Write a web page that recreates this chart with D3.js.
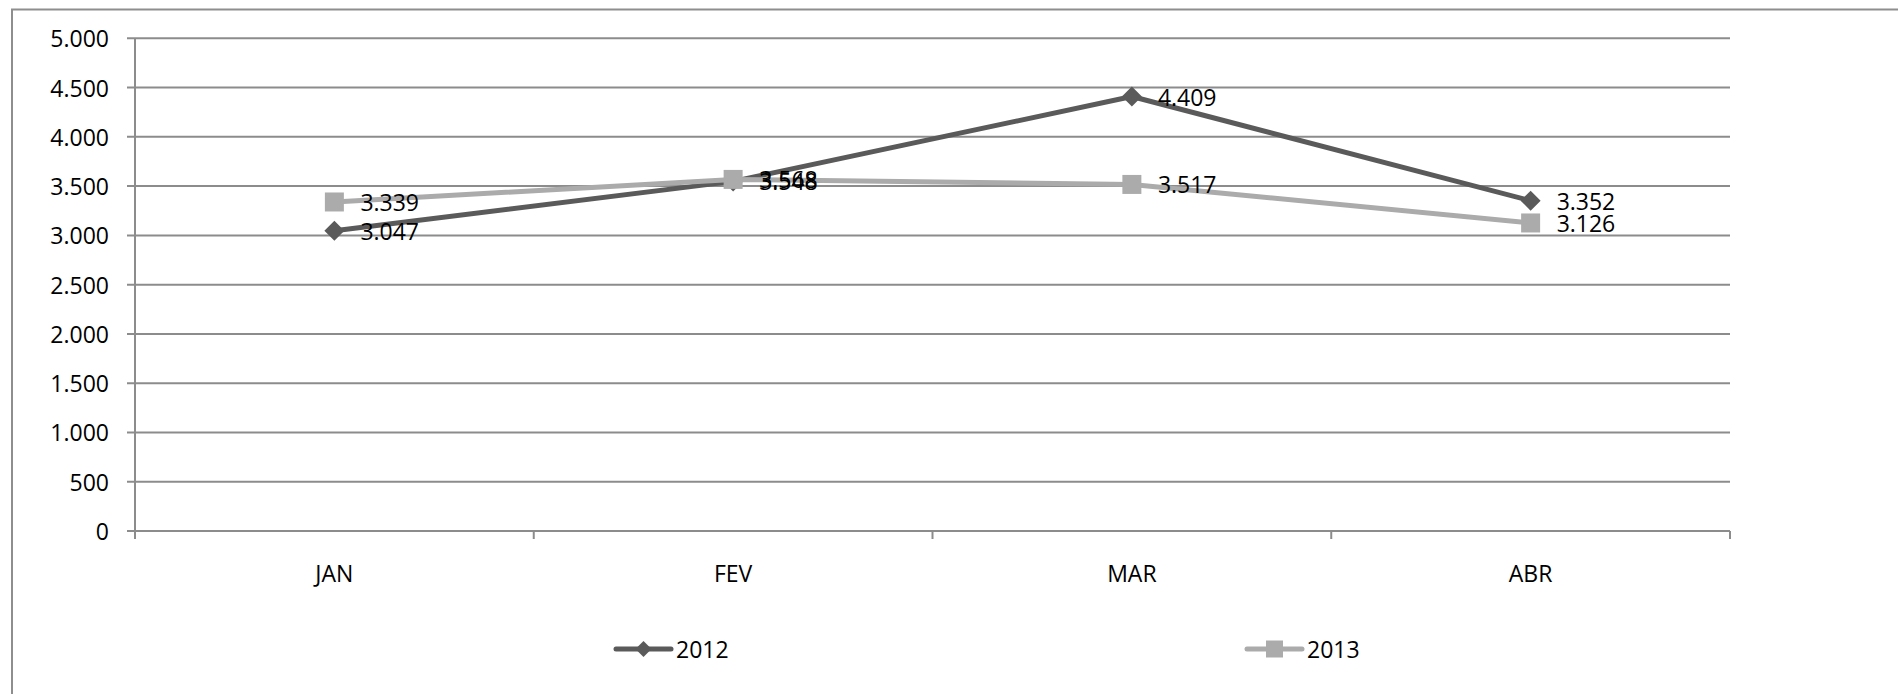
<!DOCTYPE html>
<html>
<head>
<meta charset="utf-8">
<script src="https://cdn.jsdelivr.net/npm/d3@7"></script>
<style>
  html, body { margin: 0; padding: 0; background: #fff; }
  svg { display: block; }
  text { font-family: "Open Sans", "Liberation Sans", sans-serif; fill: #000; }
</style>
</head>
<body>
<svg id="chart" width="1898" height="694"></svg>
<script>
const categories = ["JAN", "FEV", "MAR", "ABR"];
const values2012 = [3047, 3548, 4409, 3352];
const values2013 = [3339, 3568, 3517, 3126];
const seriesNames = ["2012", "2013"];
const yTicks = [0, 500, 1000, 1500, 2000, 2500, 3000, 3500, 4000, 4500, 5000];

const W = 1898, H = 694;
const plot = { left: 135, right: 1730, top: 38.3, bottom: 531 };
const fontSize = 23;
const gridColor = "#8c8c8c";
const colors = ["#5a5a5a", "#ababab"];

const svg = d3.select("#chart");
const fmt = v => d3.format(",")(v).replace(/,/g, ".");

// outer frame (right & bottom edges fall outside the picture)
svg.append("rect")
  .attr("x", 12).attr("y", 9.5)
  .attr("width", W + 20).attr("height", H + 20)
  .attr("fill", "#fff").attr("stroke", "#8e8e8e").attr("stroke-width", 2);

const x = d3.scaleBand().domain(categories).range([plot.left, plot.right]).padding(0);
const y = d3.scaleLinear().domain([0, 5000]).range([plot.bottom, plot.top]);
const cx = c => x(c) + x.bandwidth() / 2;

// gridlines
svg.append("g").selectAll("line").data(yTicks).join("line")
  .attr("x1", plot.left - 8).attr("x2", plot.right)
  .attr("y1", d => y(d)).attr("y2", d => y(d))
  .attr("stroke", gridColor).attr("stroke-width", 2);

// y axis line
svg.append("line")
  .attr("x1", plot.left).attr("x2", plot.left)
  .attr("y1", y(5000)).attr("y2", plot.bottom + 8)
  .attr("stroke", gridColor).attr("stroke-width", 2);

// x axis tick marks at category boundaries
const bounds = categories.map(c => x(c)).concat([plot.right]);
svg.append("g").selectAll("line").data(bounds).join("line")
  .attr("x1", d => d).attr("x2", d => d)
  .attr("y1", plot.bottom).attr("y2", plot.bottom + 8)
  .attr("stroke", gridColor).attr("stroke-width", 2);

// y labels
svg.append("g").selectAll("text").data(yTicks).join("text")
  .attr("x", 109).attr("y", d => y(d))
  .attr("text-anchor", "end").attr("dominant-baseline", "central")
  .attr("font-size", fontSize)
  .text(d => fmt(d));

// x labels
svg.append("g").selectAll("text").data(categories).join("text")
  .attr("x", d => cx(d)).attr("y", 573)
  .attr("text-anchor", "middle").attr("dominant-baseline", "central")
  .attr("font-size", fontSize)
  .text(d => d);

const diamond = (s) => `M0,${-s}L${s},0L0,${s}L${-s},0Z`;
const square = (s) => `M${-s},${-s}H${s}V${s}H${-s}Z`;

const series = [
  { name: seriesNames[0], values: values2012, color: colors[0], shape: diamond, size: 10 },
  { name: seriesNames[1], values: values2013, color: colors[1], shape: square, size: 9.5 }
];

const line = d3.line().x(d => cx(d.c)).y(d => y(d.v));

series.forEach(s => {
  const pts = categories.map((c, i) => ({ c, v: s.values[i] }));
  const g = svg.append("g");
  g.append("path").datum(pts).attr("d", line)
    .attr("fill", "none").attr("stroke", s.color).attr("stroke-width", 5)
    .attr("stroke-linejoin", "round");
  g.selectAll("path.m").data(pts).join("path").attr("class", "m")
    .attr("transform", d => `translate(${cx(d.c)},${y(d.v)})`)
    .attr("d", s.shape(s.size)).attr("fill", s.color);
});

// data labels
series.forEach(s => {
  const pts = categories.map((c, i) => ({ c, v: s.values[i] }));
  svg.append("g").selectAll("text").data(pts).join("text")
    .attr("x", d => cx(d.c) + 26).attr("y", d => y(d.v))
    .attr("dominant-baseline", "central")
    .attr("font-size", fontSize)
    .text(d => fmt(d.v));
});

// legend
const legendItems = [
  { s: series[0], x0: 616 },
  { s: series[1], x0: 1247 }
];
const ly = 649;
legendItems.forEach(({ s, x0 }) => {
  const g = svg.append("g");
  g.append("line").attr("x1", x0).attr("x2", x0 + 55).attr("y1", ly).attr("y2", ly)
    .attr("stroke", s.color).attr("stroke-width", 5).attr("stroke-linecap", "round");
  g.append("path").attr("transform", `translate(${x0 + 27.5},${ly})`)
    .attr("d", s.shape(s.shape === diamond ? 8 : 8.5)).attr("fill", s.color);
  g.append("text").attr("x", x0 + 60).attr("y", ly)
    .attr("dominant-baseline", "central").attr("font-size", fontSize)
    .text(s.name);
});
</script>
</body>
</html>
